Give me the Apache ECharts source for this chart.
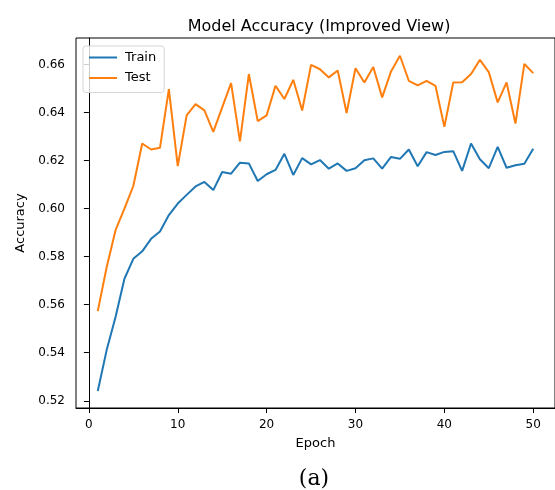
<!DOCTYPE html>
<html>
<head>
<meta charset="utf-8">
<script src="https://cdn.jsdelivr.net/npm/echarts@6/dist/echarts.min.js"></script>
<style>
html,body{margin:0;padding:0;background:#fff;}
#chart{width:555px;height:490px;}
</style>
</head>
<body>
<div id="chart"></div>
<script>
var epochs = [];
for (var i = 1; i <= 50; i++) epochs.push(i);
var trainAcc = [0.5241,0.5411,0.5549,0.5708,0.5791,0.5822,0.5874,0.5905,0.5973,0.6021,
                0.6057,0.6092,0.6111,0.6077,0.6152,0.6145,0.6191,0.6188,0.6115,0.6143,
                0.6161,0.6228,0.6140,0.6210,0.6184,0.6202,0.6166,0.6188,0.6157,0.6168,
                0.6201,0.6209,0.6166,0.6215,0.6207,0.6246,0.6176,0.6235,0.6223,0.6236,
                0.6239,0.6157,0.6271,0.6205,0.6168,0.6257,0.6170,0.6180,0.6187,0.6249];
var testAcc = [0.5573,0.5756,0.5910,0.6000,0.6094,0.6271,0.6246,0.6253,0.6497,0.6177,
               0.6388,0.6435,0.6409,0.6319,0.6421,0.6522,0.6280,0.6560,0.6364,0.6388,
               0.6511,0.6456,0.6536,0.6408,0.6598,0.6580,0.6546,0.6575,0.6398,0.6584,
               0.6525,0.6589,0.6463,0.6571,0.6636,0.6532,0.6513,0.6532,0.6511,0.6340,
               0.6525,0.6526,0.6560,0.6619,0.6568,0.6442,0.6525,0.6354,0.6602,0.6564];
var xTicks = [0, 10, 20, 30, 40, 50];
var yTicks = [0.52, 0.54, 0.56, 0.58, 0.60, 0.62, 0.64, 0.66];

function pairs(ys) { return epochs.map(function (e, k) { return [e, ys[k]]; }); }

var font = 'DejaVu Sans';
var chart = echarts.init(document.getElementById('chart'), null, {renderer: 'canvas'});
chart.setOption({
  animation: false,
  backgroundColor: '#ffffff',
  title: [
    {text: 'Model Accuracy (Improved View)', left: 314, top: 14, textAlign: 'center',
     textStyle: {fontFamily: font, fontSize: 16, fontWeight: 'normal', color: '#000'}},
    {text: '(a)', left: 309, top: 463, textAlign: 'center',
     textStyle: {fontFamily: 'DejaVu Serif', fontSize: 22, fontWeight: 'normal', color: '#000'}}
  ],
  grid: {left: 76, top: 38, right: -3, bottom: 82, show: true, borderColor: '#000', borderWidth: 1, backgroundColor: 'transparent'},
  legend: {
    orient: 'vertical', left: 83, top: 46,
    padding: [5, 8, 8, 5], itemGap: 7.5, itemWidth: 28, itemHeight: 14,
    backgroundColor: 'rgba(255,255,255,0.8)', borderColor: '#d6d6d6', borderWidth: 1, borderRadius: 3,
    itemStyle: {opacity: 0},
    textStyle: {fontFamily: font, fontSize: 13, color: '#000', padding: [0, 0, 0, 3]},
    data: ['Train', 'Test']
  },
  xAxis: {
    type: 'value', min: -1.45, max: 52.45,
    name: 'Epoch', nameLocation: 'middle', nameGap: 29,
    nameTextStyle: {fontFamily: font, fontSize: 13, color: '#000'},
    axisLine: {lineStyle: {color: '#000', width: 1}},
    axisTick: {show: true, customValues: xTicks, length: 5, lineStyle: {color: '#000'}},
    axisLabel: {customValues: xTicks, margin: 11, fontFamily: font, fontSize: 12, color: '#000'},
    splitLine: {show: false}
  },
  yAxis: {
    type: 'value', min: 0.517, max: 0.671,
    name: 'Accuracy', nameLocation: 'middle', nameGap: 43,
    nameTextStyle: {fontFamily: font, fontSize: 13, color: '#000'},
    axisLine: {show: true, lineStyle: {color: '#000', width: 1}},
    axisTick: {show: true, customValues: yTicks, length: 5, lineStyle: {color: '#000'}},
    axisLabel: {customValues: yTicks, margin: 11, fontFamily: font, fontSize: 12, color: '#000',
      formatter: function (v) { return v.toFixed(2); }},
    splitLine: {show: false}
  },
  series: [
    {name: 'Train', type: 'line', data: pairs(trainAcc), symbol: 'none',
     lineStyle: {color: '#1f77b4', width: 2}, itemStyle: {color: '#1f77b4'}},
    {name: 'Test', type: 'line', data: pairs(testAcc), symbol: 'none',
     lineStyle: {color: '#ff7f0e', width: 2}, itemStyle: {color: '#ff7f0e'}}
  ]
});
</script>
</body>
</html>
